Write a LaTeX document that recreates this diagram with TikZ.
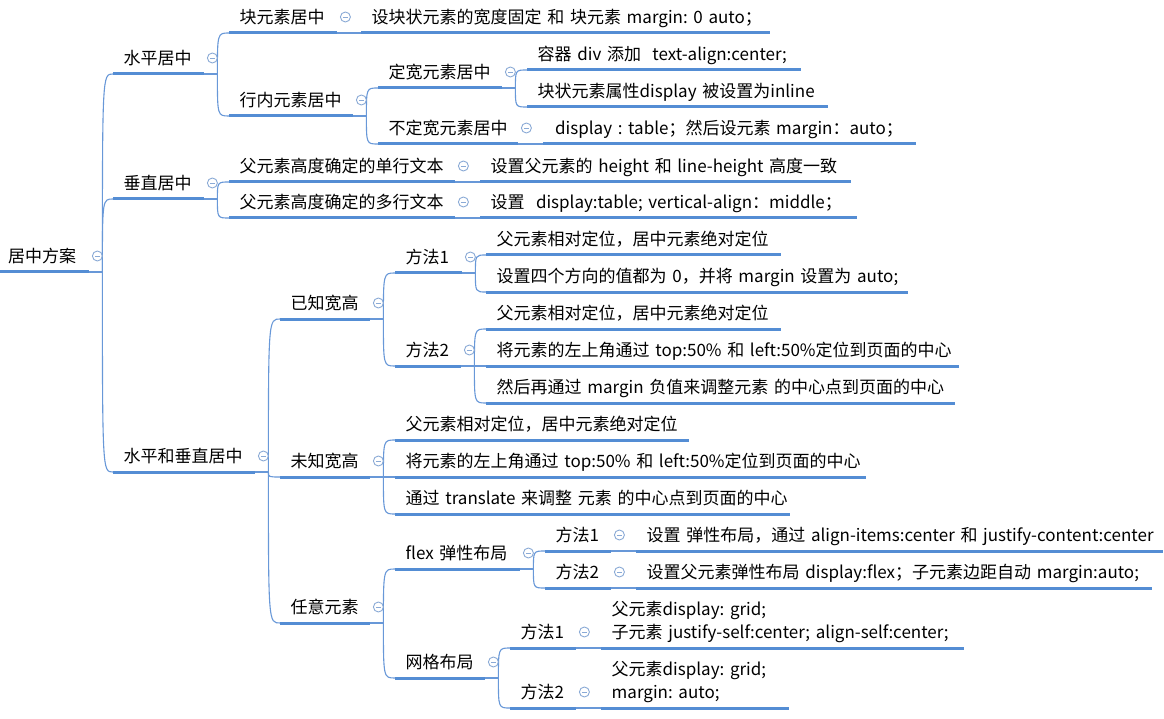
\documentclass[tikz,border=0pt]{standalone}
\usepackage{fontspec}
\setmainfont{Noto Sans CJK SC}
\usetikzlibrary{calc}
\definecolor{lineblue}{RGB}{84,141,212}
\definecolor{linkblue}{RGB}{104,152,216}
\definecolor{iconblue}{RGB}{138,170,214}

\begin{document}
\begin{tikzpicture}[x=1pt, y=-1pt,
    topic/.style={anchor=south west, inner xsep=10.5pt, inner ysep=4.5pt, text depth=5pt,
      align=left, text width=#1, font=\fontsize{17}{23}\selectfont\frenchspacing},
    root/.style={topic=#1, inner xsep=8pt},
    uline/.style={lineblue, line width=3pt},
    link/.style={linkblue, line width=1.1pt},
    fold/.style={circle, draw=iconblue, line width=0.9pt, minimum size=10pt, inner sep=0pt,
      path picture={\draw[iconblue, line width=0.9pt]
        ([xshift=-2.6pt]path picture bounding box.center) -- ([xshift=2.6pt]path picture bounding box.center);}}]
  \fill[white] (0,0) rectangle (1164,719);
  \useasboundingbox (0,0) rectangle (1164,719);

  % root and first level
  \node[root=73pt] (root) at (0,272) {居中方案};
  \node[topic=70pt] (hp) at (113,74) {水平居中};
  \node[topic=70pt] (vc) at (113,199) {垂直居中};
  \node[topic=121pt] (hv) at (113,472) {水平和垂直居中};

  % horizontal
  \node[topic=87pt] (blk) at (229,33) {块元素居中};
  \node[topic=388pt] (blk-t) at (361,33) {\mbox{设块状元素的宽度固定 和 块元素 margin: 0 auto；}};
  \node[topic=103pt] (inl) at (229,116) {行内元素居中};
  \node[topic=103pt] (fw) at (378,88) {定宽元素居中};
  \node[topic=253pt] (fw-a) at (527,70) {\mbox{容器 div 添加\ \ text-align:center;}};
  \node[topic=280pt] (fw-b) at (527,107) {\mbox{块状元素属性display 被设置为inline}};
  \node[topic=119pt] (nfw) at (378,144) {不定宽元素居中};
  \node[topic=349pt, inner xsep=12pt] (nfw-a) at (543,144) {\mbox{display : table；然后设元素 margin：auto；}};

  % vertical
  \node[topic=205pt] (sl) at (229,182) {父元素高度确定的单行文本};
  \node[topic=350pt] (sl-a) at (480,182) {\mbox{设置父元素的 height 和 line-height 高度一致}};
  \node[topic=205pt] (ml) at (229,218) {父元素高度确定的多行文本};
  \node[topic=356pt] (ml-a) at (480,218) {\mbox{设置\ \ display:table; vertical-align：middle；}};

  % both directions
  \node[topic=69pt] (kw) at (280,319) {已知宽高};
  \node[topic=46pt] (kw1) at (395,273) {方法1};
  \node[topic=274pt] (kw1-a) at (486,255) {父元素相对定位，居中元素绝对定位};
  \node[topic=401pt] (kw1-b) at (486,292) {\mbox{设置四个方向的值都为 0，并将 margin 设置为 auto;}};
  \node[topic=45pt] (kw2) at (395,366) {方法2};
  \node[topic=274pt] (kw2-a) at (486,329) {父元素相对定位，居中元素绝对定位};
  \node[topic=452pt] (kw2-b) at (486,366) {\mbox{将元素的左上角通过 top:50\% 和 left:50\%定位到页面的中心}};
  \node[topic=448pt] (kw2-c) at (486,403) {\mbox{然后再通过 margin 负值来调整元素 的中心点到页面的中心}};

  \node[topic=69pt] (uw) at (280,477) {未知宽高};
  \node[topic=273pt] (uw-a) at (395,440) {父元素相对定位，居中元素绝对定位};
  \node[topic=450pt] (uw-b) at (395,477) {\mbox{将元素的左上角通过 top:50\% 和 left:50\%定位到页面的中心}};
  \node[topic=374pt] (uw-c) at (395,514) {\mbox{通过 translate 来调整 元素 的中心点到页面的中心}};

  \node[topic=69pt] (any) at (280,623) {任意元素};
  \node[topic=104pt] (flx) at (395,569) {\mbox{flex 弹性布局}};
  \node[topic=45pt] (fx1) at (545,551) {方法1};
  \node[topic=506pt] (fx1-a) at (636,551) {\mbox{设置 弹性布局，通过 align-items:center 和 justify-content:center}};
  \node[topic=45pt] (fx2) at (545,588) {方法2};
  \node[topic=495pt] (fx2-a) at (636,588) {\mbox{设置父元素弹性布局 display:flex；子元素边距自动 margin:auto;}};
  \node[topic=69pt] (grd) at (395,678) {网格布局};
  \node[topic=45pt] (gd1) at (510,648) {方法1};
  \node[topic=342pt, text depth=28pt] (gd1-a) at (601,648) {\mbox{父元素display: grid;}\\\mbox{子元素 justify-self:center; align-self:center;}};
  \node[topic=45pt] (gd2) at (510,708) {方法2};
  \node[topic=167pt, text depth=28pt] (gd2-a) at (601,708) {\mbox{父元素display: grid;}\\\mbox{margin: auto;}};

  % forks to several children
  \foreach \p/\cs in {root/{hp,vc,hv}, hp/{blk,inl}, inl/{fw,nfw}, fw/{fw-a,fw-b},
      vc/{sl,ml}, hv/{kw,uw,any}, kw/{kw1,kw2}, kw1/{kw1-a,kw1-b}, kw2/{kw2-a,kw2-b,kw2-c},
      uw/{uw-a,uw-b,uw-c}, any/{flx,grd}, flx/{fx1,fx2}, grd/{gd1,gd2}} {
    \draw[link] (\p.south east) -- ++(13,0) coordinate (\p-f);
    \foreach \c in \cs
      \draw[link] (\p-f) .. controls (\p-f |- \c.south west) .. (\c.south west);
  }
  % single children
  \foreach \p/\c in {blk/blk-t, nfw/nfw-a, sl/sl-a, ml/ml-a, fx1/fx1-a, fx2/fx2-a, gd1/gd1-a, gd2/gd2-a}
    \draw[link] (\p.south east) -- (\c.south west);

  % underlines
  \foreach \n in {root,hp,vc,hv,blk,blk-t,inl,fw,fw-a,fw-b,nfw,nfw-a,sl,sl-a,ml,ml-a,
      kw,kw1,kw1-a,kw1-b,kw2,kw2-a,kw2-b,kw2-c,uw,uw-a,uw-b,uw-c,
      any,flx,fx1,fx1-a,fx2,fx2-a,grd,gd1,gd1-a,gd2,gd2-a}
    \draw[uline] (\n.south west) -- (\n.south east);

  % fold icons
  \foreach \n in {root,hp,blk,inl,fw,nfw,vc,sl,ml,hv,kw,kw1,kw2,uw,any,flx,fx1,fx2,grd,gd1,gd2}
    \node[fold] (\n-i) at ([shift={(8,-16)}]\n.south east) {};
\end{tikzpicture}
\end{document}
